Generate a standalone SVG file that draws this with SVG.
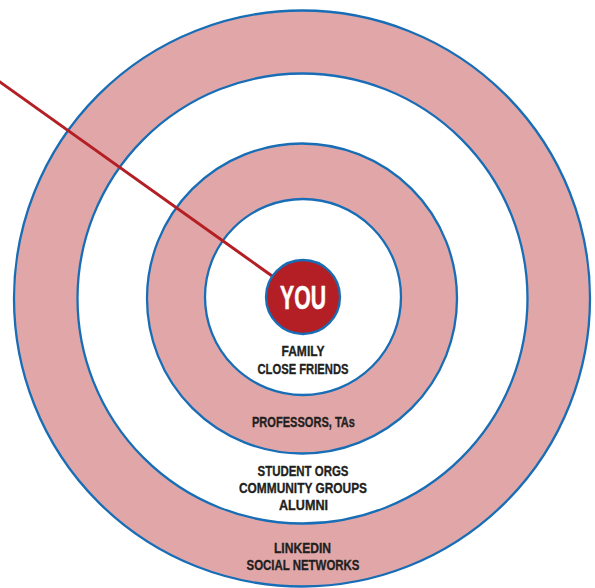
<svg xmlns="http://www.w3.org/2000/svg" width="595" height="588" viewBox="0 0 595 588">
  <style>
    .ring { stroke: #176db6; stroke-width: 2.3; }
    .pink { fill: #e1a7a8; }
    .white { fill: #ffffff; }
    .lbl { font-family: "Liberation Sans Narrow", "Liberation Sans", Arial, sans-serif; font-weight: bold; font-size: 15.5px; fill: #231f20; stroke: #231f20; stroke-width: 0.35; text-anchor: middle; }
    .you { font-family: "Liberation Sans Narrow", "Liberation Sans", Arial, sans-serif; font-weight: bold; font-size: 32.5px; fill: #ffffff; stroke: #ffffff; stroke-width: 0.5; text-anchor: middle; }
    .link { stroke: #b31f24; stroke-width: 3; fill: none; }
  </style>
  <rect width="595" height="588" fill="#ffffff"/>
  <g id="ring-outer">
    <circle class="ring pink" cx="302" cy="298.5" r="288"/>
  </g>
  <g id="ring-second">
    <circle class="ring white" cx="302.5" cy="298.5" r="225"/>
  </g>
  <g id="ring-third">
    <circle class="ring pink" cx="302" cy="298.5" r="155"/>
  </g>
  <g id="ring-inner">
    <circle class="ring white" cx="303" cy="297" r="98"/>
  </g>
  <g id="connectors">
    <line class="link" x1="-6" y1="77.7" x2="303" y2="298"/>
  </g>
  <g id="you">
    <circle cx="303" cy="297" r="37" fill="#b31f24" stroke="#176db6" stroke-width="2.3"/>
    <text class="you" x="303" y="309.3" textLength="46" lengthAdjust="spacingAndGlyphs">YOU</text>
  </g>
  <g id="label-inner">
    <text class="lbl" x="303" y="356" textLength="43" lengthAdjust="spacingAndGlyphs">FAMILY</text>
    <text class="lbl" x="303" y="374" textLength="91" lengthAdjust="spacingAndGlyphs">CLOSE FRIENDS</text>
  </g>
  <g id="label-third">
    <text class="lbl" x="303.5" y="426.5" textLength="103" lengthAdjust="spacingAndGlyphs">PROFESSORS, TAs</text>
  </g>
  <g id="label-second">
    <text class="lbl" x="303" y="476" textLength="91" lengthAdjust="spacingAndGlyphs">STUDENT ORGS</text>
    <text class="lbl" x="303" y="493" textLength="128" lengthAdjust="spacingAndGlyphs">COMMUNITY GROUPS</text>
    <text class="lbl" x="303.5" y="510" textLength="49" lengthAdjust="spacingAndGlyphs">ALUMNI</text>
  </g>
  <g id="label-outer">
    <text class="lbl" x="302.5" y="552.5" textLength="57" lengthAdjust="spacingAndGlyphs">LINKEDIN</text>
    <text class="lbl" x="303" y="570" textLength="113" lengthAdjust="spacingAndGlyphs">SOCIAL NETWORKS</text>
  </g>
</svg>
